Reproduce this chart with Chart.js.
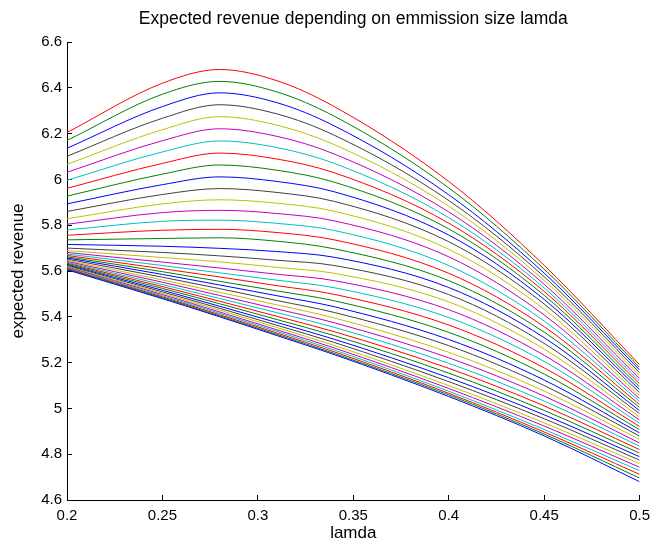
<!doctype html>
<html>

<head>
    <title>Expected revenue</title>
    <script src="https://cdn.jsdelivr.net/npm/chart.js"></script>
    <style>
        html, body { margin: 0; padding: 0; background: #fff; }
        #wrap { width: 662px; height: 544px; }
    </style>
</head>

<body>

    <div id="wrap">
        <canvas id="revenue"></canvas>
    </div>

    <script>
    // lamda values where each curve is sampled
    const lamda = [0.2, 0.25, 0.28, 0.31, 0.34, 0.4, 0.45, 0.5];

    // expected revenue of curves 1..38 (bottom to top) at each lamda
    const revAt020 = [5.605, 5.608, 5.611, 5.614, 5.617, 5.620, 5.623, 5.626, 5.630, 5.634, 5.638, 5.642, 5.647, 5.652, 5.657, 5.662, 5.668, 5.674, 5.681, 5.689, 5.700, 5.716, 5.736, 5.756, 5.779, 5.804, 5.828, 5.860, 5.893, 5.927, 5.961, 5.996, 6.031, 6.066, 6.101, 6.136, 6.170, 6.205];
    const revAt025 = [5.479, 5.483, 5.487, 5.492, 5.497, 5.503, 5.509, 5.516, 5.524, 5.532, 5.541, 5.551, 5.561, 5.573, 5.585, 5.597, 5.610, 5.624, 5.639, 5.659, 5.681, 5.708, 5.742, 5.778, 5.817, 5.855, 5.893, 5.934, 5.977, 6.023, 6.070, 6.120, 6.169, 6.217, 6.267, 6.318, 6.372, 6.420];
    const revAt028 = [5.400, 5.404, 5.409, 5.415, 5.421, 5.429, 5.437, 5.446, 5.457, 5.468, 5.480, 5.493, 5.507, 5.523, 5.539, 5.555, 5.574, 5.592, 5.613, 5.640, 5.666, 5.699, 5.745, 5.782, 5.822, 5.865, 5.911, 5.960, 6.011, 6.063, 6.115, 6.168, 6.221, 6.274, 6.326, 6.378, 6.428, 6.480];
    const revAt031 = [5.318, 5.323, 5.329, 5.336, 5.343, 5.353, 5.363, 5.375, 5.388, 5.402, 5.418, 5.434, 5.452, 5.471, 5.492, 5.513, 5.536, 5.560, 5.586, 5.616, 5.647, 5.685, 5.730, 5.768, 5.808, 5.851, 5.896, 5.943, 5.991, 6.040, 6.089, 6.139, 6.188, 6.237, 6.286, 6.335, 6.382, 6.431];
    const revAt034 = [5.235, 5.240, 5.247, 5.255, 5.264, 5.275, 5.288, 5.302, 5.318, 5.335, 5.354, 5.374, 5.395, 5.419, 5.444, 5.470, 5.498, 5.527, 5.558, 5.590, 5.624, 5.660, 5.697, 5.736, 5.777, 5.819, 5.861, 5.904, 5.946, 5.988, 6.029, 6.070, 6.111, 6.152, 6.193, 6.234, 6.276, 6.318];
    const revAt040 = [5.052, 5.059, 5.066, 5.075, 5.087, 5.100, 5.117, 5.134, 5.154, 5.175, 5.197, 5.221, 5.245, 5.274, 5.301, 5.332, 5.364, 5.397, 5.431, 5.465, 5.497, 5.528, 5.558, 5.590, 5.624, 5.662, 5.695, 5.728, 5.757, 5.784, 5.809, 5.833, 5.858, 5.883, 5.908, 5.933, 5.963, 5.991];
    const revAt045 = [4.880, 4.888, 4.897, 4.908, 4.923, 4.937, 4.955, 4.972, 4.991, 5.011, 5.032, 5.054, 5.076, 5.100, 5.124, 5.150, 5.177, 5.205, 5.232, 5.259, 5.284, 5.309, 5.333, 5.357, 5.382, 5.408, 5.433, 5.456, 5.476, 5.494, 5.511, 5.526, 5.542, 5.559, 5.575, 5.591, 5.608, 5.625];
    const revAt050 = [4.680, 4.696, 4.712, 4.728, 4.743, 4.759, 4.774, 4.789, 4.805, 4.820, 4.835, 4.849, 4.864, 4.879, 4.893, 4.907, 4.921, 4.935, 4.949, 4.963, 4.977, 4.990, 5.004, 5.017, 5.030, 5.043, 5.056, 5.069, 5.082, 5.094, 5.107, 5.119, 5.131, 5.144, 5.156, 5.168, 5.179, 5.191];

    const revColumns = [revAt020, revAt025, revAt028, revAt031, revAt034, revAt040, revAt045, revAt050];

    // matlab default colour order: b g r c m y k
    const lineColors = ['#0000ff', '#008000', '#ff0000', '#00bfbf', '#bf00bf', '#bfbf00', '#404040'];

    const xTicks = [0.2, 0.25, 0.3, 0.35, 0.4, 0.45, 0.5];
    const yTicks = [4.6, 4.8, 5, 5.2, 5.4, 5.6, 5.8, 6, 6.2, 6.4, 6.6];

    const fontFamily = '"Liberation Sans", Arial, Helvetica, sans-serif';

    var datasets = [];
    for (var k = 0; k < revAt020.length; k++) {
        datasets.push({
            label: 'curve ' + (k + 1),
            data: lamda.map((x, i) => ({ x: x, y: revColumns[i][k] })),
            borderColor: lineColors[k % lineColors.length],
            borderWidth: 1,
            pointRadius: 0,
            fill: false,
            cubicInterpolationMode: 'monotone'
        });
    }

    Chart.defaults.font.family = fontFamily;
    Chart.defaults.color = '#000';

    var grafico = new Chart(document.getElementById('revenue').getContext('2d'), {
        type: 'line',
        data: { datasets: datasets },
        options: {
            responsive: true,
            maintainAspectRatio: false,
            animation: false,
            layout: { padding: { left: 0, right: 12, top: 0, bottom: 0 } },
            plugins: {
                legend: { display: false },
                tooltip: { enabled: false },
                title: {
                    display: true,
                    fullSize: false,
                    text: 'Expected revenue depending on emmission size lamda',
                    color: '#000',
                    font: { size: 17.5, weight: 'normal' },
                    padding: { top: 9, bottom: 12 }
                }
            },
            scales: {
                x: {
                    type: 'linear',
                    min: 0.2,
                    max: 0.5,
                    afterBuildTicks: (scale) => { scale.ticks = xTicks.map(v => ({ value: v })); },
                    afterFit: (scale) => { scale.height = 44; },
                    grid: { drawOnChartArea: false, drawTicks: true, tickLength: -5, color: '#000' },
                    border: { display: true, color: '#000', width: 1 },
                    ticks: {
                        padding: 12,
                        maxRotation: 0,
                        autoSkip: false,
                        font: { size: 15 },
                        callback: (v) => String(+Number(v).toFixed(2))
                    },
                    title: {
                        display: true,
                        text: 'lamda',
                        font: { size: 17 },
                        padding: { top: 0, bottom: 0 }
                    }
                },
                y: {
                    type: 'linear',
                    min: 4.6,
                    max: 6.6,
                    afterBuildTicks: (scale) => { scale.ticks = yTicks.map(v => ({ value: v })); },
                    afterFit: (scale) => { scale.width = 67; },
                    grid: { drawOnChartArea: false, drawTicks: true, tickLength: -5, color: '#000' },
                    border: { display: true, color: '#000', width: 1 },
                    ticks: {
                        padding: 10,
                        autoSkip: false,
                        font: { size: 15 },
                        callback: (v) => String(+Number(v).toFixed(2))
                    },
                    title: {
                        display: true,
                        text: 'expected revenue',
                        font: { size: 17 },
                        padding: { top: 8, bottom: 0 }
                    }
                }
            }
        }
    });
    </script>
</body>

</html>
